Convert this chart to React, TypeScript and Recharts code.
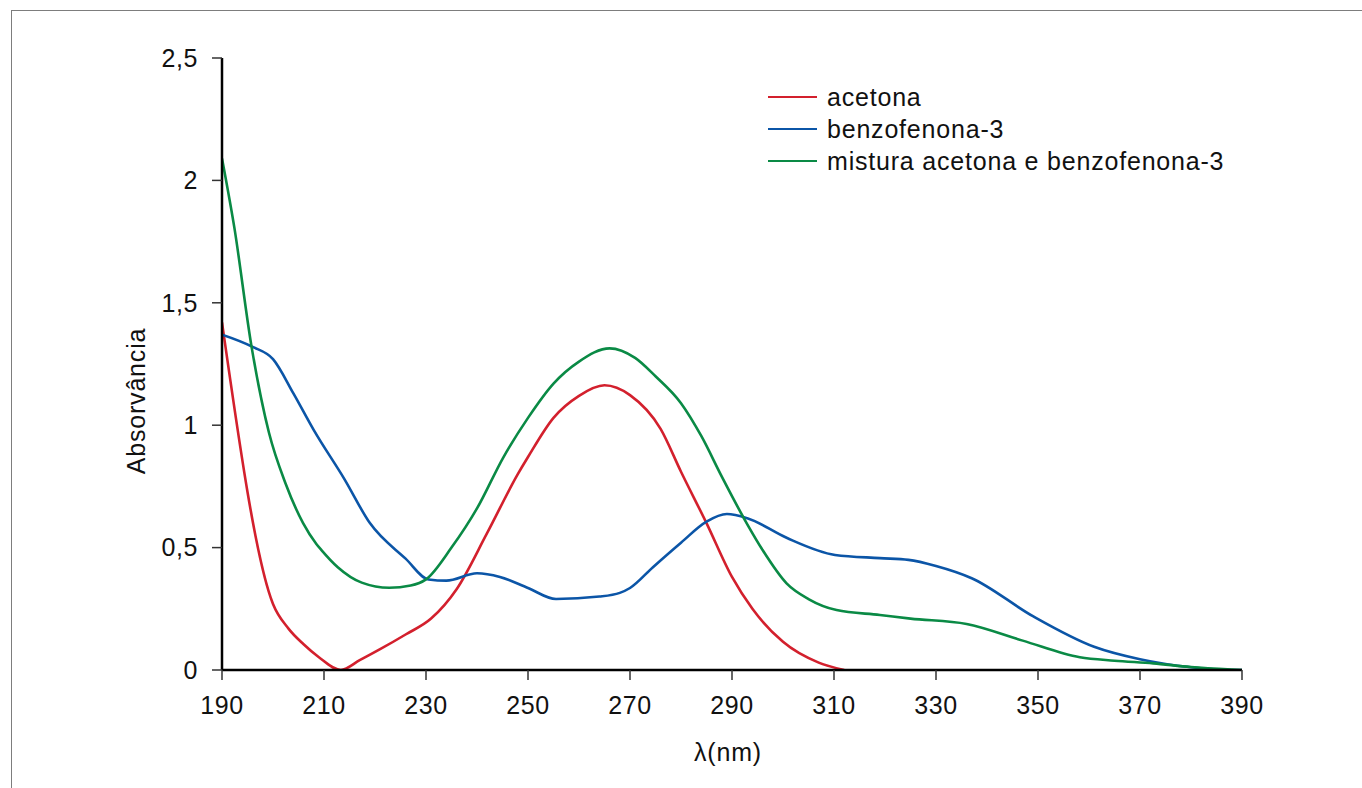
import React from 'react';
import { LineChart, Line, XAxis, YAxis, Legend } from 'recharts';

// ---------- data ----------
const xTicks = [190, 210, 230, 250, 270, 290, 310, 330, 350, 370, 390];
const yTicks = [0, 0.5, 1, 1.5, 2, 2.5];

const acetonaLambda = [190, 200, 203, 206, 209, 213.3, 217, 221, 226, 231, 236, 242, 248, 250, 255, 260, 265, 270, 276, 280, 285, 290, 294, 300, 307, 312];
const acetonaAbs = [1.42, 0.27, 0.17, 0.105, 0.052, 0.0, 0.04, 0.085, 0.145, 0.21, 0.33, 0.56, 0.8, 0.87, 1.03, 1.12, 1.163, 1.123, 0.985, 0.81, 0.6, 0.38, 0.25, 0.115, 0.03, 0.0];

const benzoLambda = [190, 196, 200, 204, 208, 214, 219, 226, 230.5, 234, 240, 244.5, 250, 255.5, 264, 268, 270, 274.5, 280, 285, 289, 293, 300.7, 310.2, 319, 324.6, 330, 337, 349, 361, 370, 380, 388, 390];
const benzoAbs = [1.37, 1.32, 1.27, 1.13, 0.98, 0.78, 0.6, 0.455, 0.37, 0.365, 0.395, 0.38, 0.335, 0.29, 0.3, 0.315, 0.335, 0.42, 0.52, 0.606, 0.637, 0.62, 0.54, 0.47, 0.457, 0.45, 0.425, 0.375, 0.22, 0.095, 0.044, 0.011, 0.0, 0.0];

const misturaLambda = [190, 192.4, 195.8, 199.2, 202.5, 205.9, 208.5, 209.5, 212.7, 217.4, 222.8, 227, 230, 235, 240, 245.2, 250, 255, 260, 266, 271, 275, 280, 284, 288, 293, 296, 300.7, 305, 310.5, 319, 325, 336, 347, 358.2, 365, 372.6, 380, 388, 390];
const misturaAbs = [2.09, 1.81, 1.32, 0.97, 0.76, 0.6, 0.515, 0.49, 0.42, 0.357, 0.336, 0.345, 0.37, 0.5, 0.66, 0.87, 1.03, 1.17, 1.26, 1.314, 1.275, 1.2, 1.09, 0.955, 0.79, 0.595, 0.49, 0.354, 0.29, 0.245, 0.225, 0.21, 0.188, 0.12, 0.052, 0.038, 0.027, 0.012, 0.002, 0.0];

const seriesNames = ['acetona', 'benzofenona-3', 'mistura acetona e benzofenona-3'];
const seriesColors = ['#d3202d', '#0b55a7', '#0a8a45'];

const toPoints = (xs: number[], ys: number[]) => xs.map((x, i) => ({ x, y: ys[i] }));
const acetonaData = toPoints(acetonaLambda, acetonaAbs);
const benzoData = toPoints(benzoLambda, benzoAbs);
const misturaData = toPoints(misturaLambda, misturaAbs);

const FONT = '"Liberation Sans", Arial, Helvetica, sans-serif';

const renderLegend = () => (
  <div style={{ fontFamily: FONT, fontSize: 25, letterSpacing: 0.8, color: '#111' }}>
    {seriesNames.map((n, i) => (
      <div key={n} style={{ display: 'flex', alignItems: 'center', height: 32, whiteSpace: 'nowrap' }}>
        <span style={{ display: 'inline-block', width: 49, height: 2.5, background: seriesColors[i], marginRight: 10 }} />
        <span>{n}</span>
      </div>
    ))}
  </div>
);

const renderYLabel = (props: any) => {
  const vb = props && props.viewBox ? props.viewBox : { x: 122, y: 58, width: 100, height: 612 };
  const x = vb.x + 23;
  const y = vb.y + vb.height / 2 + 37;
  return (
    <text x={x} y={y} transform={`rotate(-90, ${x}, ${y})`} textAnchor="middle" fill="#111"
      style={{ fontFamily: FONT, fontSize: 25, letterSpacing: 0.8 }}>
      Absorvância
    </text>
  );
};

const renderXLabel = (props: any) => {
  const vb = props && props.viewBox ? props.viewBox : { x: 222, y: 670, width: 1020, height: 92 };
  const x = vb.x + vb.width / 2 - 4;
  const y = vb.y + 91;
  return (
    <text x={x} y={y} textAnchor="middle" fill="#111" style={{ fontFamily: FONT, fontSize: 25, letterSpacing: 0.8 }}>
      λ(nm)
    </text>
  );
};

export default function App() {
  return (
    <div style={{ position: 'absolute', left: 0, top: 0, width: 1362, height: 788, overflow: 'hidden', background: '#fff' }}>
      <div style={{ position: 'absolute', left: 11, top: 10, width: 1351, height: 778, boxSizing: 'border-box', borderTop: '1.5px solid #7d7d7d', borderLeft: '1.5px solid #7d7d7d' }} />
      <div style={{ position: 'absolute', left: 0, top: 0 }}>
        <LineChart width={1362} height={788} margin={{ top: 58, right: 120, bottom: 26, left: 122 }}>
          <XAxis
            type="number"
            dataKey="x"
            domain={[190, 390]}
            ticks={xTicks}
            allowDataOverflow
            height={92}
            tickSize={10}
            tickMargin={16}
            axisLine={{ stroke: '#000', strokeWidth: 2.5 }}
            tickLine={{ stroke: '#333', strokeWidth: 1.5 }}
            tick={{ fill: '#111', fontSize: 25, fontFamily: FONT, letterSpacing: 0.6 }}
            label={renderXLabel}
          />
          <YAxis
            type="number"
            dataKey="y"
            domain={[0, 2.5]}
            ticks={yTicks}
            allowDataOverflow
            width={100}
            tickSize={10}
            tickMargin={14}
            tickFormatter={(v: number) => String(v).replace('.', ',')}
            axisLine={{ stroke: '#000', strokeWidth: 2.5 }}
            tickLine={{ stroke: '#333', strokeWidth: 1.5 }}
            tick={{ fill: '#111', fontSize: 25, fontFamily: FONT, letterSpacing: 0.6 }}
            label={renderYLabel}
          />
          <Legend
            content={renderLegend}
            layout="vertical"
            align="center"
            verticalAlign="middle"
            wrapperStyle={{ position: 'absolute', top: 81, left: 768, width: 520, right: 'auto', bottom: 'auto' }}
          />
          <Line data={acetonaData} dataKey="y" name={seriesNames[0]} type="monotone" stroke={seriesColors[0]} strokeWidth={2.6} dot={false} activeDot={false} isAnimationActive={false} />
          <Line data={benzoData} dataKey="y" name={seriesNames[1]} type="monotone" stroke={seriesColors[1]} strokeWidth={2.6} dot={false} activeDot={false} isAnimationActive={false} />
          <Line data={misturaData} dataKey="y" name={seriesNames[2]} type="monotone" stroke={seriesColors[2]} strokeWidth={2.6} dot={false} activeDot={false} isAnimationActive={false} />
        </LineChart>
      </div>
    </div>
  );
}
